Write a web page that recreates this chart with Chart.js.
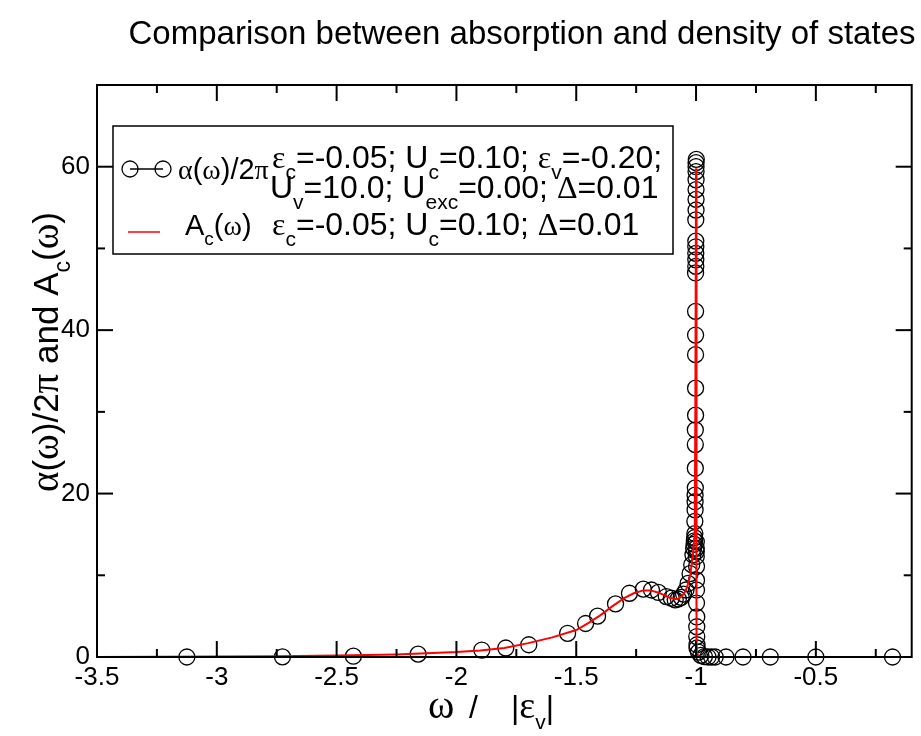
<!DOCTYPE html>
<html>
<head>
<meta charset="utf-8">
<script src="https://cdn.jsdelivr.net/npm/chart.js@4.4.0/dist/chart.umd.min.js"></script>
<style>
  html, body { margin: 0; padding: 0; background: #fff; }
  #wrap { width: 921px; height: 736px; }
</style>
</head>
<body>
<div id="wrap"><canvas id="chart" width="921" height="736"></canvas></div>
<script>
// absorption alpha(w)/2pi, open circles
var absX = [-3.125, -2.726, -2.43, -2.16, -1.894, -1.794, -1.698, -1.536, -1.461, -1.411,
  -1.336, -1.278, -1.22, -1.186, -1.157, -1.124, -1.103, -1.087, -1.074, -1.062,
  -1.052, -1.042, -1.033, -1.025, -1.018, -1.013, -1.010, -1.008, -1.007, -1.006,
  -1.005, -1.005, -1.004, -1.004, -1.004, -1.003, -1.003, -1.003, -1.003, -1.002,
  -1.002, -1.002, -1.002, -1.002, -1.002, -1.001, -1.001, -1.001, -1.001, -1.001,
  -1.001, -1.000, -1.000, -1.000, -1.000, -1.000, -1.000, -1.000,
  -0.999, -0.999, -0.999, -0.999, -0.999, -0.998, -0.998, -0.998, -0.998, -0.997,
  -0.997, -0.997, -0.996, -0.996,
  -0.990, -0.980, -0.965, -0.950, -0.935, -0.920, -0.875, -0.804, -0.690, -0.500, -0.180];
var absY = [0.0, 0.02, 0.1, 0.35, 0.85, 1.1, 1.5, 2.9, 4.1, 5.0,
  6.5, 7.8, 8.3, 8.2, 7.9, 7.4, 7.2, 7.0, 7.1, 7.3,
  7.7, 8.2, 9.0, 10.2, 11.3, 12.5, 13.3, 13.8, 14.2, 14.6,
  15.1, 16.6, 18.0, 19.0, 19.8, 20.7, 23.1, 26.0, 27.8, 29.6,
  32.9, 37.0, 39.4, 42.3, 47.0, 47.8, 48.6, 49.4, 50.2, 50.9,
  53.5, 54.7, 56.0, 57.2, 58.4, 59.4, 60.0, 60.5,
  60.9, 14.1, 13.3, 12.9, 12.3, 11.1, 9.4, 8.2, 6.6, 4.9,
  3.7, 2.5, 1.5, 1.1,
  0.6, 0.2, 0.05, 0.0, 0.0, 0.0, 0.0, 0.0, 0.0, 0.0, 0.0];

// density of states A_c(w), red line
var dosX = [-3.5, -3.25, -3.0, -2.75, -2.5, -2.25, -2.0, -1.9, -1.8, -1.7,
  -1.6, -1.5, -1.45, -1.4, -1.35, -1.3, -1.26, -1.22, -1.19, -1.16,
  -1.13, -1.11, -1.09, -1.075, -1.06, -1.045, -1.035, -1.025, -1.018, -1.012,
  -1.008, -1.005, -1.003, -1.0, -0.998, -0.996, -0.99, -0.95, -0.8, -0.5, -0.1];
var dosY = [0.0, 0.02, 0.05, 0.1, 0.18, 0.32, 0.6, 0.8, 1.1, 1.7,
  2.4, 3.3, 4.15, 5.1, 6.2, 7.2, 7.8, 8.15, 8.15, 7.9,
  7.55, 7.25, 7.1, 7.1, 7.4, 8.0, 8.8, 9.9, 11.4, 12.8,
  14.5, 18.0, 30.0, 59.8, 2.0, 0.5, 0.1, 0.02, 0.0, 0.0, 0.0];

var xMajor = [-3.5, -3, -2.5, -2, -1.5, -1, -0.5];
var xMinor = [-3.25, -2.75, -2.25, -1.75, -1.25, -0.75, -0.25];
var yMajor = [0, 20, 40, 60];
var yMinor = [10, 30, 50];

var titleText = 'Comparison between absorption and density of states';

var SANS = '"Liberation Sans", Arial, Helvetica, sans-serif';
var SERIF = '"Liberation Serif", "Times New Roman", serif';

// rich text parts: n = normal, g = greek (serif), s = subscript
var xTitleA = [['ω', 'g']];
var xTitleB = [['/', 'n']];
var xTitleC = [['|', 'n'], ['ε', 'g'], ['v', 's'], ['|', 'n']];
var yTitle = [['α', 'g'], ['(', 'n'], ['ω', 'g'], [')/2', 'n'], ['π', 'g'], [' and A', 'n'],
  ['c', 's'], ['(', 'n'], ['ω', 'g'], [')', 'n']];
var leg1Label = [['α', 'g'], ['(', 'n'], ['ω', 'g'], [')/2', 'n'], ['π', 'g']];
var leg1Line1 = [['ε', 'g'], ['c', 's'], ['=-0.05; U', 'n'], ['c', 's'], ['=0.10; ', 'n'],
  ['ε', 'g'], ['v', 's'], ['=-0.20;', 'n']];
var leg1Line2 = [['U', 'n'], ['v', 's'], ['=10.0; U', 'n'], ['exc', 's'], ['=0.00; ', 'n'],
  ['Δ', 'g'], ['=0.01', 'n']];
var leg2Label = [['A', 'n'], ['c', 's'], ['(', 'n'], ['ω', 'g'], [')', 'n']];
var leg2Line = [['ε', 'g'], ['c', 's'], ['=-0.05; U', 'n'], ['c', 's'], ['=0.10; ', 'n'],
  ['Δ', 'g'], ['=0.01', 'n']];

function partFont(kind, size, gs) {
  if (kind === 's') return Math.round(size * 0.65) + 'px ' + SANS;
  if (kind === 'g') return Math.round(size * gs) + 'px ' + SERIF;
  return size + 'px ' + SANS;
}

function richWidth(ctx, parts, size, gs) {
  var w = 0;
  parts.forEach(function(p) {
    ctx.font = partFont(p[1], size, gs);
    w += ctx.measureText(p[0]).width;
  });
  return w;
}

// y is the baseline
function drawRich(ctx, parts, x, y, size, gs) {
  ctx.textAlign = 'left';
  ctx.textBaseline = 'alphabetic';
  parts.forEach(function(p) {
    ctx.font = partFont(p[1], size, gs);
    var dy = p[1] === 's' ? size * 0.35 : 0;
    ctx.fillText(p[0], x, y + dy);
    x += ctx.measureText(p[0]).width;
  });
}

function seg(ctx, x1, y1, x2, y2) {
  ctx.beginPath();
  ctx.moveTo(x1, y1);
  ctx.lineTo(x2, y2);
  ctx.stroke();
}

var decorations = {
  id: 'decorations',
  afterDatasetsDraw: function(chart) {
    var ctx = chart.ctx, a = chart.chartArea;
    var xs = chart.scales.x, ys = chart.scales.y;
    ctx.save();
    ctx.strokeStyle = '#000';
    ctx.lineWidth = 2;
    ctx.strokeRect(a.left, a.top, a.right - a.left, a.bottom - a.top);
    // inward ticks on all four sides
    xMajor.forEach(function(v) {
      var px = xs.getPixelForValue(v);
      seg(ctx, px, a.bottom, px, a.bottom - 16);
      seg(ctx, px, a.top, px, a.top + 16);
    });
    xMinor.forEach(function(v) {
      var px = xs.getPixelForValue(v);
      seg(ctx, px, a.bottom, px, a.bottom - 8);
      seg(ctx, px, a.top, px, a.top + 8);
    });
    yMajor.forEach(function(v) {
      var py = ys.getPixelForValue(v);
      seg(ctx, a.left, py, a.left + 16, py);
      seg(ctx, a.right, py, a.right - 16, py);
    });
    yMinor.forEach(function(v) {
      var py = ys.getPixelForValue(v);
      seg(ctx, a.left, py, a.left + 8, py);
      seg(ctx, a.right, py, a.right - 8, py);
    });
    ctx.restore();
  },
  afterDraw: function(chart) {
    var ctx = chart.ctx;
    ctx.save();
    ctx.fillStyle = '#000';

    // title
    ctx.font = '33px ' + SANS;
    ctx.textAlign = 'center';
    ctx.textBaseline = 'middle';
    ctx.fillText(titleText, 522, 35);

    // x axis title, pieces spaced like the original
    drawRich(ctx, xTitleA, 428, 718, 32, 1.25);
    drawRich(ctx, xTitleB, 469, 718, 32, 1.0);
    drawRich(ctx, xTitleC, 511, 718, 32, 1.2);

    // y axis title
    ctx.save();
    ctx.translate(58, 352);
    ctx.rotate(-Math.PI / 2);
    var w = richWidth(ctx, yTitle, 35, 1.1);
    drawRich(ctx, yTitle, -w / 2, 0, 35, 1.1);
    ctx.restore();

    // legend box
    ctx.fillStyle = '#fff';
    ctx.fillRect(113, 126, 560, 128);
    ctx.strokeStyle = '#000';
    ctx.lineWidth = 1.5;
    ctx.strokeRect(113, 126, 560, 128);

    // legend entry 1: circles joined by a line
    ctx.lineWidth = 1.3;
    seg(ctx, 130, 169, 163, 169);
    [130, 163].forEach(function(cx) {
      ctx.beginPath();
      ctx.arc(cx, 169, 8, 0, Math.PI * 2);
      ctx.stroke();
    });
    ctx.fillStyle = '#000';
    drawRich(ctx, leg1Label, 178, 179, 29, 0.95);
    drawRich(ctx, leg1Line1, 272, 168, 32, 1.0);
    drawRich(ctx, leg1Line2, 270, 198, 32, 1.0);

    // legend entry 2: red line
    ctx.strokeStyle = '#ff0000';
    ctx.lineWidth = 1.5;
    seg(ctx, 128, 232, 160, 232);
    drawRich(ctx, leg2Label, 185, 235, 29, 0.95);
    drawRich(ctx, leg2Line, 272, 235, 32, 1.0);
    ctx.restore();
  }
};

function pts(xv, yv) {
  return xv.map(function(x, i) { return {x: x, y: yv[i]}; });
}

new Chart(document.getElementById('chart'), {
  type: 'scatter',
  data: {
    datasets: [{
      label: 'A_c(w)',
      data: pts(dosX, dosY),
      showLine: true,
      borderColor: '#ff0000',
      borderWidth: 2,
      pointRadius: 0,
      tension: 0,
      clip: false,
      order: 0
    }, {
      label: 'alpha(w)/2pi',
      data: pts(absX, absY),
      showLine: false,
      pointStyle: 'circle',
      pointRadius: 8,
      pointBorderWidth: 1.3,
      pointBorderColor: '#000',
      pointBackgroundColor: 'rgba(0,0,0,0)',
      clip: false,
      order: 1
    }]
  },
  options: {
    responsive: false,
    animation: false,
    devicePixelRatio: 1,
    layout: {padding: {top: 85, right: 5, left: 0, bottom: 0}},
    plugins: {legend: {display: false}, tooltip: {enabled: false}},
    scales: {
      x: {
        type: 'linear',
        min: -3.5,
        max: -0.1,
        grid: {display: false, drawTicks: false},
        border: {display: false},
        afterBuildTicks: function(s) { s.ticks = xMajor.map(function(v) { return {value: v}; }); },
        afterFit: function(s) { s.height = 79; },
        ticks: {
          autoSkip: false,
          maxRotation: 0,
          padding: 5,
          color: '#000',
          font: {family: SANS, size: 26},
          callback: function(v) { return String(v); }
        }
      },
      y: {
        type: 'linear',
        min: 0,
        max: 70,
        grid: {display: false, drawTicks: false},
        border: {display: false},
        afterBuildTicks: function(s) { s.ticks = yMajor.map(function(v) { return {value: v}; }); },
        afterFit: function(s) { s.width = 97; },
        ticks: {
          padding: 7,
          color: '#000',
          font: {family: SANS, size: 26},
          callback: function(v) { return String(v); }
        }
      }
    }
  },
  plugins: [decorations]
});
</script>
</body>
</html>
